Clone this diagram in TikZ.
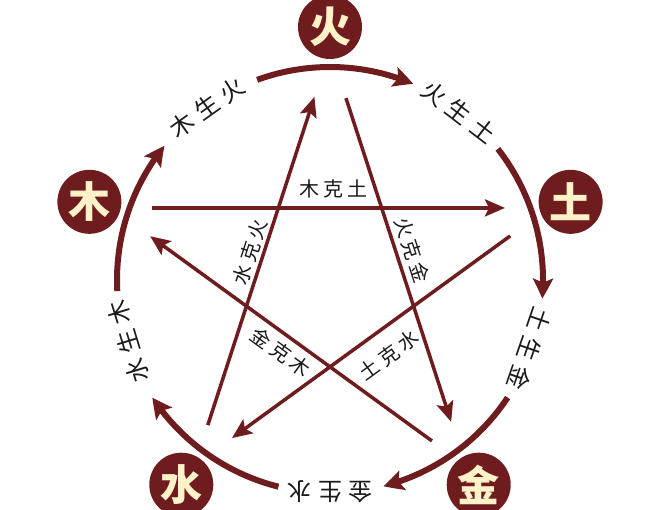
\documentclass[tikz,border=0pt]{standalone}
\usepackage{fontspec}
\newfontfamily\cjk{Noto Sans CJK SC}
\usetikzlibrary{arrows.meta,calc,bending}
\definecolor{wxred}{HTML}{6E1C1E}
\definecolor{wxcream}{HTML}{FFF1C8}
\definecolor{wxtxt}{HTML}{1A1A1A}
\newcommand{\og}{\kern6.5pt}
\newcommand{\ig}{\kern4pt}
\begin{document}
\begin{tikzpicture}[x=1pt,y=1pt,
  elem/.style={circle, fill=wxred, minimum size=64pt, inner sep=0pt, text=wxcream,
    font=\cjk\bfseries\fontsize{42}{42}\selectfont},
  shenglabel/.style={font=\cjk\fontsize{24}{24}\selectfont, text=wxtxt, inner sep=0pt},
  kelabel/.style={font=\cjk\fontsize{20}{20}\selectfont, text=wxtxt, inner sep=0pt},
  shengarc/.style={draw=wxred, line width=6pt, -{Stealth[length=20pt,width=20pt,inset=4pt,bend]}},
  keline/.style={draw=wxred, line width=3.5pt, -{Stealth[length=20pt,width=17pt,inset=4pt]}}]
\useasboundingbox (0,0) rectangle (660,-509);
\fill[white] (0,0) rectangle (660,-509);
\coordinate (C) at (330,-280);
\coordinate (S) at (330,-279);
% elements
\node[elem] (huo) at ($(C)+(90:253)$) {火};
\node[elem] (tu) at ($(C)+(18:253)$) {土};
\node[elem] (jin) at ($(C)+(-54:253)$) {金};
\node[elem] (shui) at ($(C)+(-126:253)$) {水};
\node[elem] (mu) at ($(C)+(162:253)$) {木};
% generating cycle arcs
\coordinate (a1) at ($(C)+(110:213)$);
\coordinate (a2) at ($(C)+(38:213)$);
\coordinate (a3) at ($(C)+(-33.5:213)$);
\coordinate (a4) at ($(C)+(-104:213)$);
\coordinate (a5) at ($(C)+(183:213)$);
\draw[shengarc] (a1) arc[start angle=110, end angle=67, radius=213pt];
\draw[shengarc] (a2) arc[start angle=38, end angle=-5, radius=213pt];
\draw[shengarc] (a3) arc[start angle=-33.5, end angle=-75.5, radius=213pt];
\draw[shengarc] (a4) arc[start angle=-104, end angle=-146.5, radius=213pt];
\draw[shengarc] (a5) arc[start angle=183, end angle=141, radius=213pt];
% generating labels
\node[shenglabel, rotate=35.5] (l1) at ($(C)+(125.5:212)$) {木\og 生\og 火};
\node[shenglabel, rotate=-37.5] (l2) at ($(C)+(52.5:212)$) {火\og 生\og 土};
\node[shenglabel, rotate=-109] (l3) at ($(C)+(-19:211)$) {土\og 生\og 金};
\node[shenglabel, rotate=180] (l4) at ($(C)+(-90:212)$) {金\og 生\og 水};
\node[shenglabel, rotate=-253] (l5) at ($(C)+(-163:211)$) {水\og 生\og 木};
% pentagram vertices
\coordinate (Vhuo) at ($(S)+(90:230)$);
\coordinate (Vtu) at ($(S)+(18:230)$);
\coordinate (Vjin) at ($(S)+(-54:230)$);
\coordinate (Vshui) at ($(S)+(-126:230)$);
\coordinate (Vmu) at ($(S)+(162:230)$);
% controlling lines
\draw[keline] ($(Vmu)!0.093!(Vtu)$) -- ($(Vmu)!0.90!(Vtu)$);
\draw[keline] ($(Vhuo)!0.118!(Vjin)$) -- ($(Vhuo)!0.896!(Vjin)$);
\draw[keline] ($(Vtu)!0.109!(Vshui)$) -- ($(Vtu)!0.895!(Vshui)$);
\draw[keline] ($(Vjin)!0.094!(Vmu)$) -- ($(Vjin)!0.89!(Vmu)$);
\draw[keline] ($(Vshui)!0.096!(Vhuo)$) -- ($(Vshui)!0.885!(Vhuo)$);
% controlling labels
\node[kelabel] (k1) at (333,-189) {木\ig 克\ig 土};
\node[kelabel, rotate=72] (k2) at (250,-252) {水\ig 克\ig 火};
\node[kelabel, rotate=-72] (k3) at (412,-250) {火\ig 克\ig 金};
\node[kelabel, rotate=-36] (k4) at (281,-352) {金\ig 克\ig 木};
\node[kelabel, rotate=36] (k5) at (389,-355) {土\ig 克\ig 水};
\end{tikzpicture}
\end{document}
